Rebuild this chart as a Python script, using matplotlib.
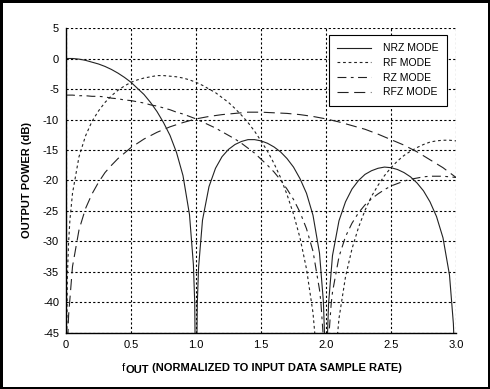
import matplotlib
matplotlib.use("Agg")
import matplotlib.pyplot as plt

plt.rcParams['font.family'] = ['Liberation Sans', 'DejaVu Sans']
plt.rcParams['axes.unicode_minus'] = False

# values below the axis floor (-45 dB) mark the nulls
nrz_f = [0.0, 0.05, 0.1, 0.15, 0.2, 0.25, 0.3, 0.35, 0.4, 0.45, 0.5, 0.55, 0.6, 0.65,
         0.7, 0.75, 0.8, 0.85, 0.9, 0.95, 0.98, 0.99, 1.0, 1.01, 1.02, 1.05, 1.1, 1.15,
         1.2, 1.25, 1.3, 1.35, 1.4, 1.45, 1.5, 1.55, 1.6, 1.65, 1.7, 1.75, 1.8, 1.85,
         1.9, 1.95, 1.98, 1.99, 2.0, 2.01, 2.02, 2.05, 2.1, 2.15, 2.2, 2.25, 2.3, 2.35,
         2.4, 2.45, 2.5, 2.55, 2.6, 2.65, 2.7, 2.75, 2.8, 2.85, 2.9, 2.95, 2.98, 2.99, 3.0]
nrz_db = [0.0, -0.0, -0.1, -0.3, -0.6, -0.9, -1.3, -1.8, -2.4, -3.1, -3.9, -4.9, -5.9, -7.2,
          -8.7, -10.5, -12.6, -15.4, -19.2, -25.6, -33.8, -39.9, -60.0, -40.1, -34.2, -26.5, -21.0, -18.0,
          -16.1, -14.9, -14.1, -13.6, -13.3, -13.3, -13.5, -13.9, -14.5, -15.3, -16.4, -17.8, -19.7, -22.1,
          -25.7, -31.9, -39.9, -46.0, -60.0, -46.1, -40.1, -32.3, -26.6, -23.5, -21.4, -20.0, -19.0, -18.4,
          -18.0, -17.8, -17.9, -18.2, -18.7, -19.4, -20.4, -21.7, -23.5, -25.9, -29.4, -35.5, -43.5, -49.5, -60.0]

rf_f = [0.0, 0.01, 0.02, 0.03, 0.05, 0.1, 0.15, 0.2, 0.25, 0.3, 0.35, 0.4, 0.45, 0.5, 0.55,
        0.6, 0.65, 0.7, 0.75, 0.8, 0.85, 0.9, 0.95, 1.0, 1.05, 1.1, 1.15, 1.2, 1.25, 1.3,
        1.35, 1.4, 1.45, 1.5, 1.55, 1.6, 1.65, 1.7, 1.75, 1.8, 1.85, 1.9, 1.95, 2.0, 2.05,
        2.1, 2.15, 2.2, 2.25, 2.3, 2.35, 2.4, 2.45, 2.5, 2.55, 2.6, 2.65, 2.7, 2.75, 2.8,
        2.85, 2.9, 2.95, 3.0]
rf_db = [-60.0, -36.1, -30.1, -26.5, -22.1, -16.1, -12.7, -10.3, -8.6, -7.2, -6.1, -5.2, -4.5, -3.9, -3.5,
         -3.2, -3.0, -2.8, -2.8, -2.9, -3.0, -3.2, -3.5, -3.9, -4.4, -5.0, -5.6, -6.4, -7.2, -8.2,
         -9.3, -10.5, -11.9, -13.5, -15.2, -17.2, -19.5, -22.3, -25.5, -29.4, -34.5, -41.7, -53.9, -60.0, -54.4,
         -42.6, -35.8, -31.2, -27.7, -24.9, -22.6, -20.8, -19.2, -17.9, -16.8, -15.9, -15.2, -14.6, -14.1, -13.7,
         -13.5, -13.4, -13.4, -13.5]

rz_f = [0.0, 0.05, 0.1, 0.15, 0.2, 0.25, 0.3, 0.35, 0.4, 0.45, 0.5, 0.55, 0.6, 0.65, 0.7,
        0.75, 0.8, 0.85, 0.9, 0.95, 1.0, 1.05, 1.1, 1.15, 1.2, 1.25, 1.3, 1.35, 1.4, 1.45,
        1.5, 1.55, 1.6, 1.65, 1.7, 1.75, 1.8, 1.85, 1.9, 1.95, 1.96, 1.98, 2.0, 2.02, 2.04,
        2.05, 2.1, 2.15, 2.2, 2.25, 2.3, 2.35, 2.4, 2.45, 2.5, 2.55, 2.6, 2.65, 2.7, 2.75,
        2.8, 2.85, 2.9, 2.95, 3.0]
rz_db = [-6.0, -6.0, -6.1, -6.1, -6.2, -6.2, -6.3, -6.5, -6.6, -6.8, -6.9, -7.1, -7.3, -7.6, -7.8,
         -8.1, -8.4, -8.8, -9.1, -9.5, -9.9, -10.4, -10.9, -11.4, -12.0, -12.6, -13.2, -13.9, -14.7, -15.5,
         -16.5, -17.5, -18.6, -19.9, -21.4, -23.1, -25.2, -27.9, -31.6, -37.9, -39.8, -45.9, -60.0, -46.1, -40.2,
         -38.3, -32.5, -29.2, -27.0, -25.3, -24.0, -23.0, -22.2, -21.5, -20.9, -20.5, -20.1, -19.8, -19.6, -19.4,
         -19.3, -19.3, -19.3, -19.4, -19.5]

rfz_f = [0.0, 0.01, 0.02, 0.05, 0.1, 0.15, 0.2, 0.25, 0.3, 0.35, 0.4, 0.5, 0.6, 0.7, 0.8,
         0.9, 1.0, 1.1, 1.2, 1.3, 1.4, 1.5, 1.6, 1.7, 1.8, 1.9, 2.0, 2.1, 2.2, 2.3,
         2.4, 2.5, 2.6, 2.7, 2.8, 2.9, 3.0]
rfz_db = [-60.0, -48.1, -42.1, -34.1, -28.1, -24.6, -22.2, -20.3, -18.7, -17.5, -16.4, -14.6, -13.2, -12.1, -11.2,
          -10.5, -9.9, -9.5, -9.2, -9.0, -8.8, -8.8, -8.9, -9.0, -9.2, -9.5, -9.9, -10.4, -11.0, -11.6,
          -12.4, -13.3, -14.2, -15.3, -16.6, -17.9, -19.5]

x_ticks = [0, 0.5, 1.0, 1.5, 2.0, 2.5, 3.0]
x_labels = ['0', '0.5', '1.0', '1.5', '2.0', '2.5', '3.0']
y_ticks = [5, 0, -5, -10, -15, -20, -25, -30, -35, -40, -45]

fig = plt.figure(figsize=(4.9, 3.89), dpi=100)
fig.patch.set_edgecolor('black')
fig.patch.set_linewidth(2.5)
ax = fig.add_axes([0.1347, 0.144, 0.7959, 0.784])

lc = '#222222'
ax.plot(nrz_f, nrz_db, color=lc, lw=0.8, label='NRZ MODE')
ax.plot(rf_f, rf_db, color=lc, lw=0.8, dashes=(2.5, 2.5), label='RF MODE')
ax.plot(rz_f, rz_db, color=lc, lw=0.8, dashes=(8, 4, 2.5, 4), label='RZ MODE')
ax.plot(rfz_f, rfz_db, color=lc, lw=0.8, dashes=(10, 5), label='RFZ MODE')

ax.set_xlim(0, 3.0)
ax.set_ylim(-45, 5)
ax.set_xticks(x_ticks)
ax.set_xticklabels(x_labels)
ax.set_yticks(y_ticks)
ax.set_yticklabels([str(v) for v in y_ticks])
ax.tick_params(length=0, labelsize=8, pad=5)
ax.grid(True, color='black', lw=0.8, linestyle=(0, (2, 2)))
for side in ['top', 'right']:
    ax.spines[side].set_visible(False)
for side in ['left', 'bottom']:
    ax.spines[side].set_linewidth(1.0)

ax.set_ylabel('OUTPUT POWER (dB)', fontsize=8, fontweight='bold', labelpad=8)

# x label: "f" + lowered "OUT" + rest, built from pieces
t1 = fig.text(122 / 490, 1 - 371 / 389, 'f', fontsize=8, va='baseline', ha='left')
t2 = ax.annotate('OUT', xy=(1, 0), xycoords=t1, xytext=(0.3, -1.5),
                 textcoords='offset points', fontsize=8, fontweight='bold',
                 va='bottom', ha='left')
ax.annotate(' (NORMALIZED TO INPUT DATA SAMPLE RATE)', xy=(1, 0), xycoords=t2,
            xytext=(0, 1.5), textcoords='offset points', fontsize=8,
            fontweight='bold', va='bottom', ha='left')

leg = ax.legend(loc='upper right', bbox_to_anchor=(0.977, 0.977), borderaxespad=0,
                fontsize=7.5, fancybox=False, edgecolor='black', framealpha=1,
                handlelength=3.2, labelspacing=0.45, borderpad=0.8, handletextpad=1.2)
leg.get_frame().set_linewidth(0.8)

fig.savefig('out.png', dpi=100)
